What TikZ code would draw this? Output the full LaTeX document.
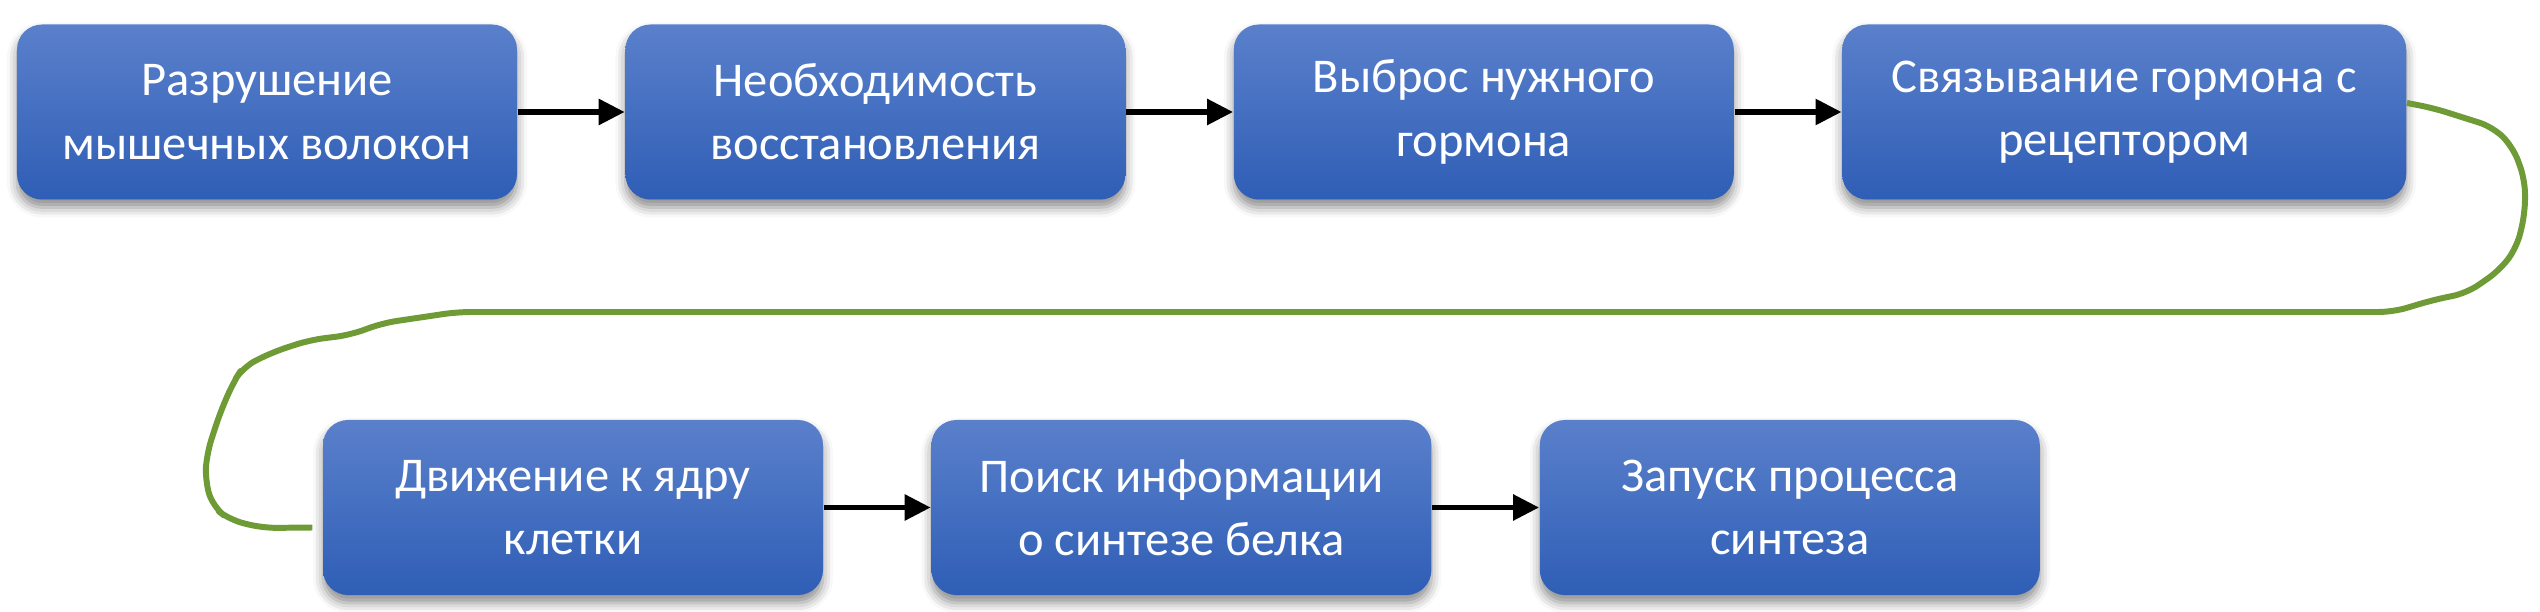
\documentclass[tikz,border=0pt]{standalone}
\usepackage{fontspec}
\setmainfont{Carlito}
\usetikzlibrary{arrows.meta,positioning,shadows.blur}

\definecolor{boxtop}{HTML}{5A80CB}
\definecolor{boxbot}{HTML}{2F5EB6}
\definecolor{loopgreen}{HTML}{6F9B36}

\begin{document}
\begin{tikzpicture}[
        PBS/.style={rectangle, rounded corners=0.25cm, top color=boxtop, bottom color=boxbot, draw=none,
            minimum width=5cm, minimum height=1.75cm, inner sep=0pt, align=center, text=white,
            font=\fontsize{13.8}{18}\selectfont,
            blur shadow={shadow xshift=0pt, shadow yshift=-0.08cm, shadow blur radius=0.1cm, shadow opacity=45}},  % protein biosynthesis step
        >={Triangle[length=2.6mm, width=2.5mm]},
    ]
        \useasboundingbox (0,0) rectangle (25.4,6.12);

        %Nodes
        \node[PBS] (Damage) at (2.67,5.0) {Разрушение\\мышечных волокон};
        \node[PBS] (Need) [right=1.07cm of Damage] {Необходимость\\восстановления};
        \node[PBS] (Release) [right=1.07cm of Need] {Выброс нужного\\гормона};
        \node[PBS, minimum width=5.64cm] (Bind) [right=1.07cm of Release] {Связывание гормона с\\рецептором};
        \node[PBS] (Move) at (5.73,1.045) {Движение к ядру\\клетки};
        \node[PBS] (Search) [right=1.07cm of Move] {Поиск информации\\о синтезе белка};
        \node[PBS] (Start) [right=1.07cm of Search] {Запуск процесса\\синтеза};

        %Lines
        \draw[->, line width=1.6pt] (Damage.east) to (Need.west);
        \draw[->, line width=1.6pt] (Need.east) to (Release.west);
        \draw[->, line width=1.6pt] (Release.east) to (Bind.west);
        \draw[->, line width=1.6pt] (Move.east) to (Search.west);
        \draw[->, line width=1.6pt] (Search.east) to (Start.west);
        \draw[loopgreen, line width=1.7pt, rounded corners=4pt, line join=round]
            ([yshift=0.09cm]Bind.east) -- (24.33,5.04) -- (24.93,4.85) -- (25.13,4.65) -- (25.25,4.32)
            -- (25.25,3.99) -- (25.17,3.65) -- (25.00,3.42) -- (24.67,3.19) -- (24.33,3.12) -- (23.93,3.00)
            -- (4.57,3.00) -- (4.17,2.94) -- (3.83,2.89) -- (3.50,2.77) -- (3.10,2.72) -- (2.73,2.60)
            -- (2.43,2.45) -- (2.33,2.29) -- (2.20,1.99) -- (2.07,1.59) -- (2.05,1.32) -- (2.13,1.05)
            -- (2.30,0.92) -- (2.63,0.84) -- ([shift={(-0.1,-0.2)}]Move.west);
    \end{tikzpicture}
\end{document}
